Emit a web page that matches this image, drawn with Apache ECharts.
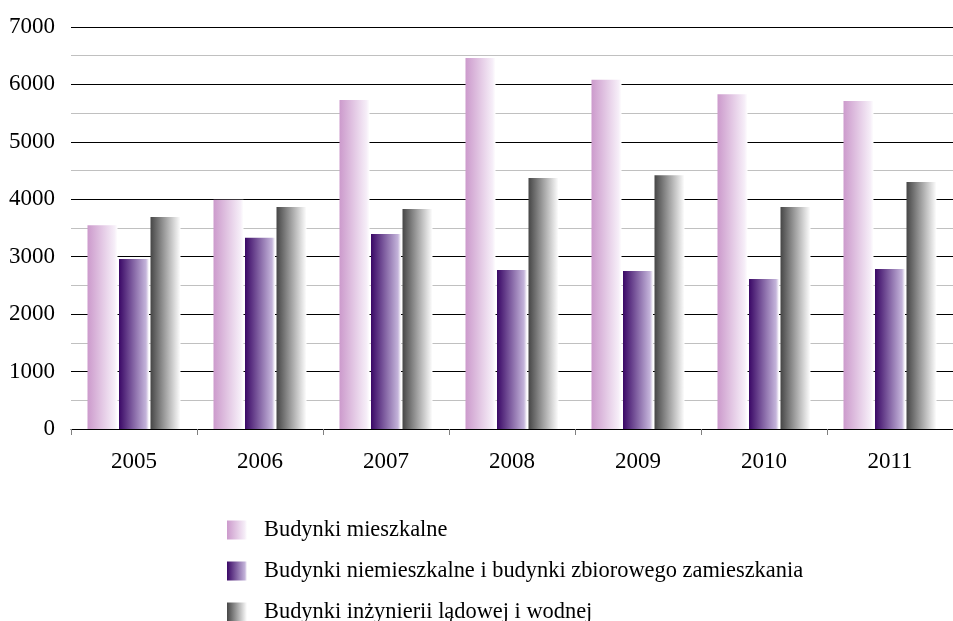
<!DOCTYPE html>
<html>
<head>
<meta charset="utf-8">
<script src="https://cdn.jsdelivr.net/npm/echarts@6/dist/echarts.min.js"></script>
<style>
  html, body { margin: 0; padding: 0; background: #fff; }
  #chart { width: 953px; height: 621px; }
</style>
</head>
<body>
<div id="chart"></div>
<script>
const years = ["2005", "2006", "2007", "2008", "2009", "2010", "2011"];
const seriesNames = [
  "Budynki mieszkalne",
  "Budynki niemieszkalne i budynki zbiorowego zamieszkania",
  "Budynki inżynierii lądowej i wodnej"
];
const mieszkalne = [3550, 3990, 5730, 6460, 6080, 5830, 5710];
const niemieszkalne = [2960, 3330, 3395, 2770, 2750, 2610, 2785];
const inzynieria = [3690, 3865, 3830, 4370, 4420, 3865, 4300];
const yTicks = [0, 1000, 2000, 3000, 4000, 5000, 6000, 7000];

const font = "'Liberation Serif', 'Times New Roman', serif";

const grad = (from, to) => new echarts.graphic.LinearGradient(0, 0, 1, 0, [
  { offset: 0, color: from },
  { offset: 0.9, color: to },
  { offset: 1, color: "#ffffff" }
]);

// one legend box per entry so the list stays in one column
const legendTops = [519, 560, 601];
const legends = seriesNames.map((name, i) => ({
  left: 227,
  top: legendTops[i],
  padding: 0,
  itemWidth: 20,
  itemHeight: 19,
  icon: "rect",
  textStyle: { fontFamily: font, fontSize: 22.4, color: "#000", padding: [0, 0, 0, 12] },
  data: [name]
}));

const chart = echarts.init(document.getElementById("chart"));

const option = {
  animation: false,
  backgroundColor: "#ffffff",
  grid: { left: 71, top: 27, width: 894, height: 402, containLabel: false },
  legend: legends,
  xAxis: {
    type: "category",
    data: years,
    axisLine: { lineStyle: { color: "#000", width: 1 } },
    axisTick: { show: true, length: 6, lineStyle: { color: "#808080" } },
    axisLabel: { fontFamily: font, fontSize: 23, color: "#000", margin: 21 }
  },
  yAxis: {
    type: "value",
    min: yTicks[0],
    max: yTicks[yTicks.length - 1],
    interval: 1000,
    axisLine: { show: false },
    axisTick: { show: false },
    axisLabel: { fontFamily: font, fontSize: 23, color: "#000", margin: 16, formatter: (v) => String(v) },
    splitLine: { lineStyle: { color: "#000", width: 1 } },
    minorTick: { show: false, splitNumber: 2 },
    minorSplitLine: { show: true, lineStyle: { color: "#c0c0c0", width: 1 } }
  },
  series: [
    {
      name: seriesNames[0],
      type: "bar",
      barWidth: 30,
      barGap: "5%",
      data: mieszkalne,
      itemStyle: { color: grad("#cc9acc", "#f6eef8") }
    },
    {
      name: seriesNames[1],
      type: "bar",
      barWidth: 30,
      barGap: "5%",
      data: niemieszkalne,
      itemStyle: { color: grad("#3a0866", "#c4b4da") }
    },
    {
      name: seriesNames[2],
      type: "bar",
      barWidth: 30,
      barGap: "5%",
      data: inzynieria,
      itemStyle: { color: grad("#464646", "#ececec") }
    }
  ]
};

chart.setOption(option);
</script>
</body>
</html>
